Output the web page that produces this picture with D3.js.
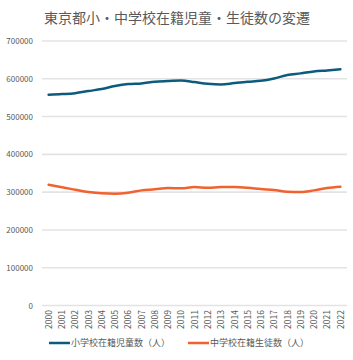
<!DOCTYPE html>
<html>
<head>
<meta charset="utf-8">
<script src="https://cdn.jsdelivr.net/npm/d3@7"></script>
<style>
  body { margin: 0; background: #fff; }
  text { font-family: "Noto Sans CJK JP", "Liberation Sans", sans-serif; }
</style>
</head>
<body>
<script>
var years = ["2000","2001","2002","2003","2004","2005","2006","2007","2008","2009","2010",
             "2011","2012","2013","2014","2015","2016","2017","2018","2019","2020","2021","2022"];
var elementary = [557700, 559500, 562000, 567500, 572800, 580700, 586000, 587800, 592000, 594000, 595700,
                  591300, 586800, 585000, 588600, 592000, 594700, 601000, 609800, 614300, 619500, 622200, 625000];
var juniorHigh = [319600, 312700, 306400, 300300, 296800, 295800, 298400, 304700, 307400, 310800, 310000,
                  313500, 311700, 313500, 313500, 311700, 308200, 305600, 301000, 300300, 304700, 310800, 314300];
var yTicks = [0, 100000, 200000, 300000, 400000, 500000, 600000, 700000];
var seriesNames = ["小学校在籍児童数（人）", "中学校在籍生徒数（人）"];
var seriesColors = ["#0d5b7c", "#f0622f"];

var W = 353, H = 360;
var margin = {left: 42, right: 6, top: 41, bottom: 55};

var svg = d3.select("body").append("svg")
    .attr("width", W).attr("height", H);

svg.append("text")
    .attr("x", 177).attr("y", 23)
    .attr("text-anchor", "middle")
    .attr("font-size", 14)
    .attr("fill", "#595959")
    .text("東京都小・中学校在籍児童・生徒数の変遷");

var x = d3.scalePoint().domain(years).range([margin.left, W - margin.right]).padding(0.5);
var y = d3.scaleLinear().domain([0, 700000]).range([305.5, margin.top]);

// gridlines
svg.append("g").selectAll("line").data(yTicks).enter().append("line")
    .attr("x1", margin.left).attr("x2", W - margin.right)
    .attr("y1", function(d){ return y(d); })
    .attr("y2", function(d){ return y(d); })
    .attr("stroke", "#e3e3e3")
    .attr("stroke-width", 1.6);

// y axis labels
var yAxis = d3.axisLeft(y).tickValues(yTicks).tickSize(0).tickPadding(9).tickFormat(d3.format("d"));
var yg = svg.append("g").attr("transform", "translate(" + margin.left + ",0)").call(yAxis);
yg.select(".domain").remove();
yg.selectAll("text").attr("font-size", 8).attr("fill", "#595959")
    .attr("font-family", "Liberation Sans, sans-serif");

// x axis labels
var xAxis = d3.axisBottom(x).tickSize(0).tickPadding(0);
var xg = svg.append("g").attr("transform", "translate(0,310)").call(xAxis);
xg.select(".domain").remove();
xg.selectAll("text")
    .attr("font-size", 8.5).attr("fill", "#595959")
    .attr("font-family", "Liberation Sans, sans-serif")
    .attr("text-anchor", "end")
    .attr("y", 0)
    .attr("dy", "0.32em")
    .attr("transform", "rotate(-90)");

var line = d3.line()
    .x(function(d, i){ return x(years[i]); })
    .y(function(d){ return y(d); })
    .curve(d3.curveMonotoneX);

[elementary, juniorHigh].forEach(function(s, k){
    svg.append("path").datum(s)
        .attr("d", line)
        .attr("fill", "none")
        .attr("stroke", seriesColors[k])
        .attr("stroke-width", 2.5)
        .attr("stroke-linecap", "round");
});

// legend
var legendX = [49, 188];
seriesNames.forEach(function(name, k){
    var g = svg.append("g").attr("transform", "translate(" + legendX[k] + ",343)");
    g.append("line").attr("x1", 0).attr("x2", 21).attr("y1", 0).attr("y2", 0)
        .attr("stroke", seriesColors[k]).attr("stroke-width", 2.5);
    g.append("text").attr("x", 22).attr("y", 0).attr("dy", "0.35em")
        .attr("font-size", 9).attr("fill", "#595959").text(name);
});
</script>
</body>
</html>
